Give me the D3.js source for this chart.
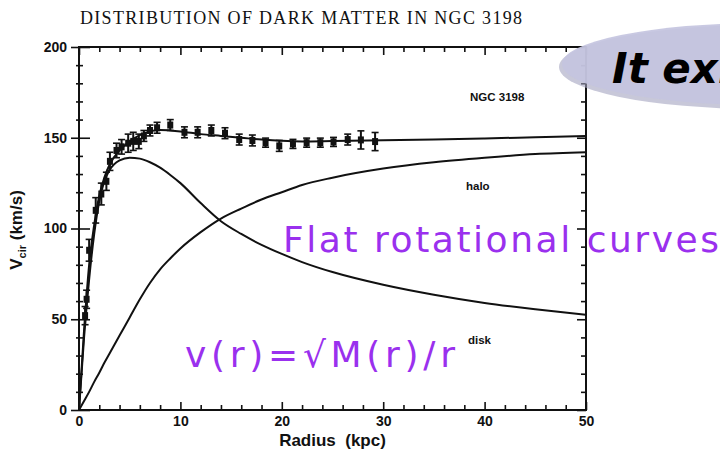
<!DOCTYPE html>
<html>
<head>
<meta charset="utf-8">
<script src="https://cdn.jsdelivr.net/npm/d3@7"></script>
<style>
  body { margin: 0; background: #fff; }
  svg { display: block; }
</style>
</head>
<body>
<svg id="chart" width="720" height="450"></svg>
<script>
var obsRadius = [0.6, 0.75, 1.0, 1.65, 2.2, 2.7, 3.05, 3.7, 4.2, 4.85, 5.35, 5.9, 6.4, 7.0, 7.7,
                 9.0, 10.4, 11.7, 13.05, 14.4, 15.8, 17.1, 18.4, 19.75, 21.1, 22.45, 23.8, 25.1, 26.5, 27.8, 29.2]
var obsVel    = [52, 61, 88, 110, 119, 126, 137, 143, 145, 147, 148, 148, 151, 154, 155.5,
                 157, 153, 153, 154, 152.5, 149, 148.5, 147.3, 145.5, 146.6, 147.3, 147.3, 147.7, 149, 148.8, 147.9]
var obsErr    = [5, 5, 6, 7, 6, 5, 5, 4, 4, 5, 5, 4, 3, 3, 3,
                 3, 3, 3, 3, 3, 3, 3, 2.5, 3, 2.5, 2.5, 2.5, 2.5, 3, 5, 5]

// model curves
var curveRadius = [0, 0.5, 1, 1.5, 2, 2.5, 3, 4, 5, 6, 7, 8, 9, 10, 12, 14, 16, 18, 20, 22, 25, 30, 35, 40, 45, 50]
var totalVel = [0, 44, 80, 102, 118, 128, 135, 143, 148, 151.5, 153.5, 154.3, 154, 153.5, 152, 151, 150, 149, 148.3, 148, 148.2, 148.6, 149, 149.6, 150.3, 151]
var diskVel  = [0, 40, 72, 97, 115, 126, 132, 137.5, 139, 138.5, 136.5, 133.5, 129.5, 125, 114, 104, 97, 91, 86, 81.5, 76, 69, 63.5, 59, 55.5, 52.5]
var haloVel  = [0, 5, 10, 15.5, 20.5, 26, 31, 41, 51, 61, 70, 77.5, 83.5, 89, 98, 105.5, 111, 116, 120, 124, 128, 133, 136.5, 139, 141, 142]

var xMajor = [0, 10, 20, 30, 40, 50]
var yMajor = [0, 50, 100, 150, 200]

var svg = d3.select("#chart")

var x = d3.scaleLinear().domain([0, 50]).range([79, 586]),
    y = d3.scaleLinear().domain([0, 200]).range([410, 47]);

var xMinor = d3.range(0, 51, 2).filter(function(d) { return d % 10 !== 0 })
var yMinor = d3.range(0, 201, 10).filter(function(d) { return d % 50 !== 0 })

svg.append("text")
    .attr("x", 80)
    .attr("y", 24)
    .attr("font-family", "Liberation Serif, serif")
    .attr("font-size", "18px")
    .attr("textLength", 442)
    .attr("fill", "#111")
    .text("DISTRIBUTION OF DARK MATTER IN NGC 3198")

// frame
svg.append("rect")
    .attr("x", x(0)).attr("y", y(200))
    .attr("width", x(50) - x(0)).attr("height", y(0) - y(200))
    .attr("fill", "none").attr("stroke", "#111").attr("stroke-width", 2)

function styleAxis(g) {
    g.select(".domain").remove()
    g.selectAll("line").attr("stroke", "#111").attr("stroke-width", 1.6)
    g.selectAll("text")
        .attr("fill", "#111")
        .attr("font-family", "Liberation Sans, Arial, sans-serif")
        .attr("font-weight", "bold")
        .attr("font-size", "14px")
}

// bottom
svg.append("g").attr("transform", "translate(0," + y(0) + ")")
    .call(d3.axisBottom(x).tickValues(xMajor).tickSize(-8).tickPadding(6).tickFormat(d3.format("d")))
    .call(styleAxis)
svg.append("g").attr("transform", "translate(0," + y(0) + ")")
    .call(d3.axisBottom(x).tickValues(xMinor).tickSize(-5).tickFormat(""))
    .call(styleAxis)
// top
svg.append("g").attr("transform", "translate(0," + y(200) + ")")
    .call(d3.axisTop(x).tickValues(xMajor).tickSize(-8).tickFormat(""))
    .call(styleAxis)
svg.append("g").attr("transform", "translate(0," + y(200) + ")")
    .call(d3.axisTop(x).tickValues(xMinor).tickSize(-5).tickFormat(""))
    .call(styleAxis)
// left, major ticks cross the axis
svg.append("g").attr("transform", "translate(" + x(0) + ",0)")
    .call(d3.axisLeft(y).tickValues(yMajor).tickSize(8).tickPadding(4))
    .call(styleAxis)
svg.append("g").attr("transform", "translate(" + x(0) + ",0)")
    .call(d3.axisLeft(y).tickValues(yMajor).tickSize(-11).tickFormat(""))
    .call(styleAxis)
svg.append("g").attr("transform", "translate(" + x(0) + ",0)")
    .call(d3.axisLeft(y).tickValues(yMinor).tickSize(3).tickFormat(""))
    .call(styleAxis)
svg.append("g").attr("transform", "translate(" + x(0) + ",0)")
    .call(d3.axisLeft(y).tickValues(yMinor).tickSize(-4).tickFormat(""))
    .call(styleAxis)
// right
svg.append("g").attr("transform", "translate(" + x(50) + ",0)")
    .call(d3.axisRight(y).tickValues(yMajor).tickSize(-9).tickFormat(""))
    .call(styleAxis)
svg.append("g").attr("transform", "translate(" + x(50) + ",0)")
    .call(d3.axisRight(y).tickValues(yMinor).tickSize(-5).tickFormat(""))
    .call(styleAxis)

// axis titles
svg.append("text")
    .attr("x", x(25)).attr("y", 446)
    .attr("text-anchor", "middle")
    .attr("font-family", "Liberation Sans, Arial, sans-serif")
    .attr("font-weight", "bold").attr("font-size", "17px")
    .attr("fill", "#111")
    .attr("xml:space", "preserve")
    .text("Radius  (kpc)")

var ylab = svg.append("text")
    .attr("transform", "translate(22,230) rotate(-90)")
    .attr("text-anchor", "middle")
    .attr("font-family", "Liberation Sans, Arial, sans-serif")
    .attr("font-weight", "bold").attr("font-size", "17px")
    .attr("fill", "#111")
ylab.append("tspan").text("V")
ylab.append("tspan").attr("font-size", "11px").attr("dy", 4).text("cir")
ylab.append("tspan").attr("dy", -4).text("\u00a0(km/s)")

// curves
var line = d3.line()
    .x(function(d) { return x(d[0]) })
    .y(function(d) { return y(d[1]) })
    .curve(d3.curveMonotoneX)

var curves = [totalVel, diskVel, haloVel]
curves.forEach(function(vals) {
    svg.append("path")
        .datum(curveRadius.map(function(r, i) { return [r, vals[i]] }))
        .attr("d", line)
        .attr("fill", "none")
        .attr("stroke", "#111")
        .attr("stroke-width", 2)
})

// observations with error bars
var obs = svg.append("g").selectAll("g")
    .data(obsRadius.map(function(r, i) { return {r: r, v: obsVel[i], e: obsErr[i]} }))
    .enter().append("g")

obs.append("line")
    .attr("x1", function(d) { return x(d.r) }).attr("x2", function(d) { return x(d.r) })
    .attr("y1", function(d) { return y(d.v - d.e) }).attr("y2", function(d) { return y(d.v + d.e) })
    .attr("stroke", "#111").attr("stroke-width", 2)
obs.selectAll(".cap")
    .data(function(d) { return [[d.r, d.v - d.e], [d.r, d.v + d.e]] })
    .enter().append("line")
    .attr("class", "cap")
    .attr("x1", function(d) { return x(d[0]) - 3.5 }).attr("x2", function(d) { return x(d[0]) + 3.5 })
    .attr("y1", function(d) { return y(d[1]) }).attr("y2", function(d) { return y(d[1]) })
    .attr("stroke", "#111").attr("stroke-width", 1.6)
obs.append("rect")
    .attr("x", function(d) { return x(d.r) - 3 })
    .attr("y", function(d) { return y(d.v) - 3.5 })
    .attr("width", 6).attr("height", 7)
    .attr("fill", "#111")

// in-plot labels
var labels = [["NGC 3198", 470, 101], ["halo", 466, 190], ["disk", 468, 344]]
labels.forEach(function(l) {
    svg.append("text")
        .attr("x", l[1]).attr("y", l[2])
        .attr("font-family", "Liberation Sans, Arial, sans-serif")
        .attr("font-weight", "bold").attr("font-size", "11.5px")
        .attr("fill", "#111")
        .text(l[0])
})

// handwritten annotations
svg.append("text")
    .attr("x", 283).attr("y", 252)
    .attr("font-family", "DejaVu Sans, sans-serif")
    .attr("font-size", "36px")
    .attr("textLength", 436)
    .attr("fill", "#9a30ee")
    .text("Flat rotational curves")

svg.append("text")
    .attr("x", 185).attr("y", 367)
    .attr("font-family", "DejaVu Sans, sans-serif")
    .attr("font-size", "36px")
    .attr("textLength", 270)
    .attr("fill", "#9a30ee")
    .text("v(r)=\u221aM(r)/r")

// speech bubble in the corner
svg.append("ellipse")
    .attr("cx", 761).attr("cy", 67).attr("rx", 202).attr("ry", 42)
    .attr("fill", "#a4a4bf").attr("opacity", 0.6)
svg.append("ellipse")
    .attr("cx", 763).attr("cy", 64).attr("rx", 201).attr("ry", 41)
    .attr("fill", "#c4c4e0").attr("opacity", 0.92)

svg.append("text")
    .attr("x", 612).attr("y", 83)
    .attr("font-family", "DejaVu Sans, sans-serif")
    .attr("font-weight", "bold").attr("font-style", "italic")
    .attr("font-size", "42px")
    .attr("fill", "#000")
    .text("It exi")
</script>
</body>
</html>
